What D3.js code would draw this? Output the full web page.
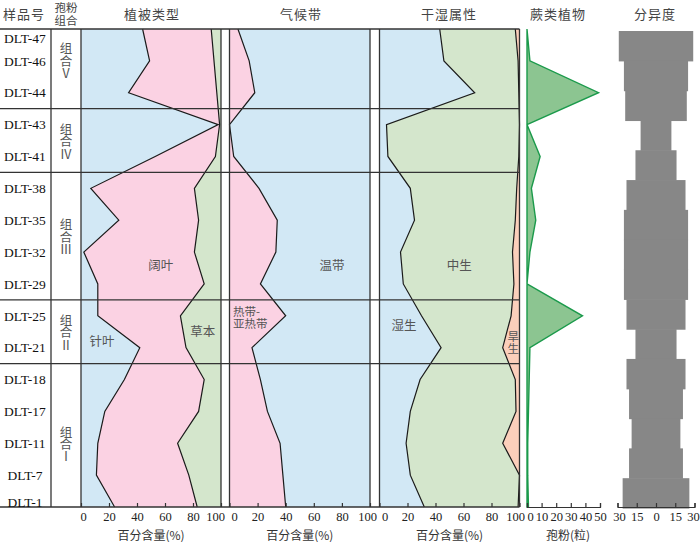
<!DOCTYPE html>
<meta charset="utf-8">
<style>
body { margin: 0; background: #fff; }
text { font-family: "Liberation Serif", "DejaVu Serif", serif; }
.cn { font-family: "Noto Sans CJK SC", sans-serif; }
.vert { writing-mode: vertical-rl; }
</style>
<body>
<script src="https://cdn.jsdelivr.net/npm/d3@7"></script>
<script>

////* data *////
const samples = ["DLT-47", "DLT-46", "DLT-44", "DLT-43", "DLT-41", "DLT-38", "DLT-35", "DLT-32",
                 "DLT-29", "DLT-25", "DLT-21", "DLT-18", "DLT-17", "DLT-11", "DLT-7", "DLT-1"];

// pollen assemblages (top to bottom)
const groupNames = ["Ⅴ", "Ⅳ", "Ⅲ", "Ⅱ", "Ⅰ"];
const groupFirst = ["DLT-47", "DLT-43", "DLT-38", "DLT-25", "DLT-18"];
const groupLast  = ["DLT-44", "DLT-41", "DLT-29", "DLT-21", "DLT-1"];

// vegetation type, %
const conifer   = [44, 49, 34, 98, 53, 7, 27, 2, 12, 12, 42, 31, 17, 12, 11, 24];
const broadleaf = [49, 46, 63, 1, 43, 74, 57, 79, 76, 59, 33, 57, 67, 57, 66, 59];
const herb      = [7, 5, 3, 1, 4, 19, 16, 19, 12, 29, 25, 12, 16, 31, 23, 17];

// climate zone, %
const tropical  = [6, 14, 18, 0, 3, 21, 34, 33, 22, 40, 16, 22, 27, 36, 38, 40];
const temperate = [94, 86, 82, 100, 97, 79, 66, 67, 78, 60, 84, 78, 73, 64, 62, 60];

// moisture, %
const hygro = [43, 46, 68, 5, 6, 22, 25, 15, 17, 30, 44, 29, 22, 19, 22, 32];
const meso  = [54, 53, 31.5, 95, 93.5, 76, 72, 80, 79, 64, 44, 68, 75.5, 69, 78, 67];
const xero  = [3, 1, 0.5, 0, 0.5, 2, 3, 5, 4, 6, 12, 3, 2.5, 12, 0, 1];

// fern spores (grains)
const fern = [0, 2, 49, 0, 9, 3, 6, 2, 0, 38, 2, 1.5, 1, 0.5, 0.5, 1];

// diversity
const diversity = [29, 25, 24, 12, 16, 23, 25, 25, 25, 23, 16, 23, 21, 19, 21, 26];

const pctTicks = [0, 20, 40, 60, 80, 100];
const fernTicks = [0, 10, 20, 30, 40, 50];
const divTicks = [-30, -15, 0, 15, 30];

////* set-up *////
const W = 700, H = 542;
const yTop = 29, yBottom = 507;
const colLabel = 51;
const gridColor = "#333";
const lineColor = "#1a1a1a";
const textGray = "#555";

const svg = d3.select("body").append("svg")
   .attr("width", W).attr("height", H);

const y = d3.scalePoint().domain(samples).range([yTop, yBottom]);
const yBand = d3.scaleBand().domain(samples).range([31, 508]);

const x1 = d3.scaleLinear().domain([0, 100]).range([81, 221]);
const x2 = d3.scaleLinear().domain([0, 100]).range([229.5, 370]);
const x3 = d3.scaleLinear().domain([0, 100]).range([379.5, 519.5]);
const xFern = d3.scaleLinear().domain([0, 50]).range([527, 600]);
const xDiv = d3.scaleLinear().domain([-30, 30]).range([617.5, 694.5]);

const rows = samples.map((s, i) => ({
   sample: s,
   conifer: conifer[i], broadleaf: broadleaf[i], herb: herb[i],
   tropical: tropical[i], temperate: temperate[i],
   hygro: hygro[i], meso: meso[i], xero: xero[i],
   fern: fern[i], diversity: diversity[i]
}));

function drawStack(keys, colors, xs) {
   const series = d3.stack().keys(keys)(rows);
   const area = d3.area()
      .y(d => y(d.data.sample))
      .x0(d => xs(d[0]))
      .x1(d => xs(d[1]));
   svg.append("g").selectAll("path")
      .data(series)
      .join("path")
      .attr("d", area)
      .attr("fill", (d, i) => colors[i]);
   // boundary lines between layers
   const line = d3.line()
      .y(d => y(d.data.sample))
      .x(d => xs(d[1]));
   svg.append("g").selectAll("path")
      .data(series.slice(0, -1))
      .join("path")
      .attr("d", line)
      .attr("fill", "none")
      .attr("stroke", lineColor)
      .attr("stroke-width", 1.2);
}

const blue = "#d2e8f5", pink = "#fbd2e3", green = "#d4e6cc", salmon = "#fbcfbb";

drawStack(["conifer", "broadleaf", "herb"], [blue, pink, green], x1);
drawStack(["tropical", "temperate"], [pink, blue], x2);
drawStack(["hygro", "meso", "xero"], [blue, green, salmon], x3);

////* fern *////
svg.append("path")
   .datum(rows)
   .attr("d", d3.area()
      .y(d => y(d.sample))
      .x0(xFern(0))
      .x1(d => xFern(d.fern)))
   .attr("fill", "#8cc591")
   .attr("stroke", "#1b9a4b")
   .attr("stroke-width", 1.4);

////* diversity *////
svg.append("g").selectAll("rect")
   .data(rows)
   .join("rect")
   .attr("x", d => xDiv(-d.diversity))
   .attr("width", d => xDiv(d.diversity) - xDiv(-d.diversity))
   .attr("y", d => yBand(d.sample))
   .attr("height", yBand.bandwidth() + 0.6)
   .attr("fill", "#878787");

////* table grid *////
const grid = svg.append("g")
   .attr("stroke", gridColor)
   .attr("stroke-width", 1.3);

const rightEdge = x3.range()[1];
const hLines = [yTop, yBottom];
for (let g = 0; g < groupNames.length - 1; g++) {
   hLines.push((y(groupLast[g]) + y(groupFirst[g + 1])) / 2);
}
grid.selectAll("line.h")
   .data(hLines)
   .join("line")
   .attr("class", "h")
   .attr("x1", 0).attr("x2", rightEdge)
   .attr("y1", d => d).attr("y2", d => d);

const vLines = [colLabel, ...x1.range(), ...x2.range(), ...x3.range()];
grid.selectAll("line.v")
   .data(vLines)
   .join("line")
   .attr("class", "v")
   .attr("x1", d => d).attr("x2", d => d)
   .attr("y1", yTop).attr("y2", yBottom);

// two short lines as one element
function stackedText(x, y0, lines, step, size, fill, anchor) {
   const t = svg.append("text")
      .attr("class", "cn")
      .attr("x", x).attr("y", y0)
      .attr("text-anchor", anchor || "middle")
      .attr("font-size", size)
      .attr("fill", fill);
   lines.forEach((ln, k) => {
      t.append("tspan")
         .attr("x", x)
         .attr("dy", k === 0 ? "0.35em" : step)
         .text(ln);
   });
   return t;
}

// characters stacked top-to-bottom
function verticalText(x, yc, str, size, fill) {
   return svg.append("text")
      .attr("class", "cn vert")
      .attr("x", x).attr("y", yc)
      .attr("text-anchor", "middle")
      .attr("font-size", size)
      .attr("fill", fill)
      .text(str);
}

////* headers *////
const headers = [
   { t: "样品号", x: 24 },
   { t: "植被类型", x: 152 },
   { t: "气候带", x: 301 },
   { t: "干湿属性", x: 449 },
   { t: "蕨类植物", x: 558 },
   { t: "分异度", x: 655 }
];
svg.append("g").selectAll("text")
   .data(headers)
   .join("text")
   .attr("class", "cn")
   .attr("x", d => d.x)
   .attr("y", 19)
   .attr("text-anchor", "middle")
   .attr("font-size", 13)
   .attr("letter-spacing", 1)
   .attr("fill", "#444")
   .text(d => d.t);

stackedText(66, 8, ["孢粉", "组合"], 13, 11.5, "#444");

////* sample labels *////
svg.append("g").selectAll("text")
   .data(samples)
   .join("text")
   .attr("x", 25)
   .attr("y", d => Math.min(Math.max(y(d), 38), 502))
   .attr("dy", "0.35em")
   .attr("text-anchor", "middle")
   .attr("font-size", 13.5)
   .attr("fill", "#111")
   .text(d => d);

////* group labels *////
groupNames.forEach((g, i) => {
   const mid = (y(groupFirst[i]) + y(groupLast[i])) / 2;
   const yc = i === 0 ? mid - 1 : mid;
   verticalText(66, yc + 1, "组合" + g, 12.5, textGray);
});

////* in-panel labels *////
const midY = (a, b) => (y(a) + y(b)) / 2;
const notes = [
   { t: "针叶", x: x1(15), y: y("DLT-21") - 6 },
   { t: "阔叶", x: x1(57), y: midY("DLT-32", "DLT-29") - 2 },
   { t: "草本", x: x1(87), y: midY("DLT-25", "DLT-21") },
   { t: "温带", x: x2(73), y: midY("DLT-32", "DLT-29") - 2 },
   { t: "中生", x: x3(57), y: midY("DLT-32", "DLT-29") - 2 },
   { t: "湿生", x: x3(17.5), y: midY("DLT-25", "DLT-21") - 6 }
];
svg.append("g").selectAll("text")
   .data(notes)
   .join("text")
   .attr("class", "cn")
   .attr("x", d => d.x)
   .attr("y", d => d.y)
   .attr("dy", "0.35em")
   .attr("text-anchor", "middle")
   .attr("font-size", 12.5)
   .attr("fill", textGray)
   .text(d => d.t);

stackedText(x2(2.5), y("DLT-25") - 4, ["热带-", "亚热带"], 12.5, 11.5, textGray, "start");
verticalText(x3(95.5), y("DLT-21") - 5, "旱生", 11.5, textGray);

////* bottom axes *////
function pctAxis(xs, firstShift, lastShift) {
   const g = svg.append("g")
      .attr("transform", `translate(0,${yBottom})`)
      .call(d3.axisBottom(xs).tickValues(pctTicks).tickSizeInner(-4).tickSizeOuter(0).tickPadding(5.5));
   g.select(".domain").remove();
   g.selectAll(".tick line").attr("stroke", gridColor).attr("stroke-width", 1.2);
   g.selectAll(".tick text")
      .attr("font-family", "Liberation Serif")
      .attr("font-size", 12.5)
      .attr("fill", "#222")
      .attr("dx", d => d === 0 ? firstShift : d === 100 ? lastShift : 0);
   svg.append("text")
      .attr("class", "cn")
      .attr("x", (xs.range()[0] + xs.range()[1]) / 2)
      .attr("y", 540)
      .attr("text-anchor", "middle")
      .attr("font-size", 12)
      .attr("fill", "#333")
      .text("百分含量(%)");
}
pctAxis(x1, 2, -6);
pctAxis(x2, 4.5, -3);
pctAxis(x3, 5, -4.5);

function styleAxis(g) {
   g.select(".domain").attr("stroke", gridColor).attr("stroke-width", 1.2);
   g.selectAll(".tick line").attr("stroke", gridColor).attr("stroke-width", 1.2);
   g.selectAll(".tick text")
      .attr("font-family", "Liberation Serif")
      .attr("font-size", 12.5)
      .attr("fill", "#222");
}

svg.append("g")
   .attr("transform", `translate(0,${yBottom})`)
   .call(d3.axisBottom(xFern).tickValues(fernTicks).tickSizeInner(-4).tickSizeOuter(-4).tickPadding(5.5))
   .call(styleAxis)
   .selectAll(".tick text")
   .attr("dx", d => d === 0 ? 3 : 0);

svg.append("g")
   .attr("transform", `translate(0,${yBottom})`)
   .call(d3.axisBottom(xDiv).tickValues(divTicks).tickFormat(d => Math.abs(d)).tickSizeInner(-4).tickSizeOuter(-4).tickPadding(5.5))
   .call(styleAxis)
   .selectAll(".tick text")
   .attr("dx", d => d === 30 ? -1.5 : d === -30 ? 1.5 : 0);

svg.append("text")
   .attr("class", "cn")
   .attr("x", 568)
   .attr("y", 540)
   .attr("text-anchor", "middle")
   .attr("font-size", 12)
   .attr("fill", "#333")
   .text("孢粉(粒)");

</script>
</body>
</html>
